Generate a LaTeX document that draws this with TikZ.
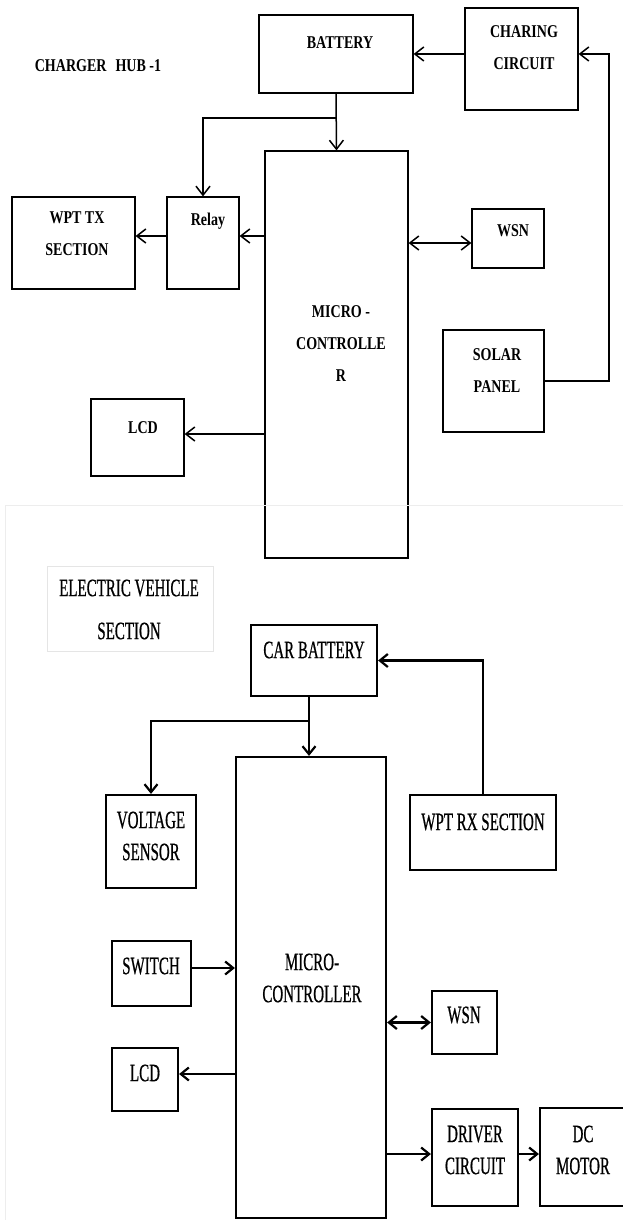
\documentclass[tikz,border=0pt]{standalone}
\usepackage{fontspec}
\usetikzlibrary{arrows.meta}
\newfontfamily\hubfont[FakeStretch=0.78]{Liberation Serif}
\newfontfamily\evfont[FakeStretch=0.6,FakeBold=0.6]{Liberation Serif}

\tikzset{
  hubbox/.style={draw, line width=1.2pt, inner sep=0pt},
  hubtext/.style={font=\hubfont\bfseries\fontsize{18}{32}\selectfont, align=center, inner sep=0pt},
  hubarrow/.style={line width=1.5pt, -{Straight Barb[length=9pt,width=14pt]}},
  hubboth/.style={line width=1.5pt, {Straight Barb[length=9pt,width=14pt]}-{Straight Barb[length=9pt,width=14pt]}},
  evbox/.style={draw, line width=2.2pt, inner sep=0pt},
  evtext/.style={font=\evfont\fontsize{25}{32}\selectfont, align=center, inner sep=0pt},
  evarrow/.style={line width=2.2pt, -{Straight Barb[length=8pt,width=13pt]}},
  evboth/.style={line width=2.2pt, {Straight Barb[length=8pt,width=13pt]}-{Straight Barb[length=8pt,width=13pt]}},
}

\begin{document}
\begin{tikzpicture}[x=1pt, y=-1pt]
  \useasboundingbox (0,0) rectangle (623,1220);
  \clip (0,0) rectangle (623,1220);
  % charger hub
  \node[hubtext] (hubtitle) at (98,66) {CHARGER\hspace{9pt}HUB -1};
  \node[hubbox, minimum width=154pt, minimum height=78pt] (battery) at (336,54) {};
  \node[hubbox, minimum width=113pt, minimum height=102pt] (charing) at (521.5,59) {};
  \node[hubbox, minimum width=143pt, minimum height=407pt] (mcu) at (336.5,354.5) {};
  \node[hubbox, minimum width=72pt, minimum height=92pt] (relay) at (203,243) {};
  \node[hubbox, minimum width=123pt, minimum height=92pt] (wpttx) at (73.5,243) {};
  \node[hubbox, minimum width=72pt, minimum height=59pt] (wsn) at (508,238.5) {};
  \node[hubbox, minimum width=101pt, minimum height=102pt] (solar) at (493.5,381) {};
  \node[hubbox, minimum width=93pt, minimum height=77pt] (lcd) at (137.5,437.5) {};
  \node[hubtext] (battery-t) at (340,43) {BATTERY};
  \node[hubtext] (charing-t) at (524,48) {CHARING\\CIRCUIT};
  \node[hubtext] (relay-t) at (208,221) {Relay};
  \node[hubtext] (wpttx-t) at (77,233.5) {WPT TX\\SECTION};
  \node[hubtext] (wsn-t) at (513,231) {WSN};
  \node[hubtext] (mcu-t) at (341,344) {MICRO -\\CONTROLLE\\R};
  \node[hubtext] (solar-t) at (497,370.5) {SOLAR\\PANEL};
  \node[hubtext] (lcd-t) at (143,428) {LCD};
  \coordinate (split) at (336,118);
  \coordinate (sidebus) at (609,54);
  \coordinate (relaylvl) at (0,236);
  \coordinate (wsnlvl) at (0,243);
  \coordinate (lcdlvl) at (0,434);
  \draw[hubarrow] (charing.west |- battery.east) -- (battery.east);
  \draw[hubarrow] (solar.east) -| (sidebus) -- (charing.east |- sidebus);
  \draw[hubarrow] (battery.south) -- (mcu.north);
  \draw[hubarrow] (split) -| (relay.north);
  \draw[hubarrow] (mcu.west |- relaylvl) -- (relay.east |- relaylvl);
  \draw[hubarrow] (relay.west |- relaylvl) -- (wpttx.east |- relaylvl);
  \draw[hubboth] (mcu.east |- wsnlvl) -- (wsn.west |- wsnlvl);
  \draw[hubarrow] (mcu.west |- lcdlvl) -- (lcd.east |- lcdlvl);

  % electric vehicle section
  \draw[black!7, line width=0.8pt] (5,1220) -- (5,505) -- (623,505);
  \node[draw=black!10, line width=0.8pt, minimum width=166pt, minimum height=85pt] (evlabel) at (130,608.5) {};
  \node[evtext] (evlabel-t) at (129,609.5) {ELECTRIC VEHICLE\\[11pt]SECTION};
  \node[evbox, minimum width=126pt, minimum height=71pt] (carbat) at (314,660.5) {};
  \node[evbox, minimum width=150pt, minimum height=461pt] (mcu2) at (311,987.5) {};
  \node[evbox, minimum width=90pt, minimum height=93pt] (volt) at (151,841.5) {};
  \node[evbox, minimum width=146pt, minimum height=75pt] (wptrx) at (483,832.5) {};
  \node[evbox, minimum width=79pt, minimum height=65pt] (switch) at (151.5,973.5) {};
  \node[evbox, minimum width=66pt, minimum height=63pt] (lcd2) at (145,1079.5) {};
  \node[evbox, minimum width=65pt, minimum height=63pt] (wsn2) at (464.5,1022.5) {};
  \node[evbox, minimum width=86pt, minimum height=97pt] (driver) at (475,1157.5) {};
  \node[evbox, minimum width=87pt, minimum height=98pt] (motor) at (583.5,1157) {};
  \node[evtext] (carbat-t) at (314,650) {CAR BATTERY};
  \node[evtext] (volt-t) at (151,836) {VOLTAGE\\SENSOR};
  \node[evtext] (wptrx-t) at (483,822) {WPT RX SECTION};
  \node[evtext] (switch-t) at (151,966) {SWITCH};
  \node[evtext] (lcd2-t) at (145,1073) {LCD};
  \node[evtext] (mcu2-t) at (312,978) {MICRO-\\CONTROLLER};
  \node[evtext] (wsn2-t) at (464,1015) {WSN};
  \node[evtext] (driver-t) at (475,1150) {DRIVER\\CIRCUIT};
  \node[evtext] (motor-t) at (583,1150) {DC\\MOTOR};
  \coordinate (evsplit) at (309,721);
  \coordinate (switchlvl) at (0,968);
  \coordinate (lcd2lvl) at (0,1074);
  \coordinate (drivelvl) at (0,1154);
  \draw[evarrow] (wptrx.north) |- (carbat.east);
  \draw[evarrow] (evsplit |- carbat.south) -- (evsplit |- mcu2.north);
  \draw[evarrow] (evsplit) -| (volt.north);
  \draw[evarrow] (switch.east |- switchlvl) -- (mcu2.west |- switchlvl);
  \draw[evarrow] (mcu2.west |- lcd2lvl) -- (lcd2.east |- lcd2lvl);
  \draw[evboth] (mcu2.east |- wsn2.west) -- (wsn2.west);
  \draw[evarrow] (mcu2.east |- drivelvl) -- (driver.west |- drivelvl);
  \draw[evarrow] (driver.east |- drivelvl) -- (motor.west |- drivelvl);
\end{tikzpicture}
\end{document}
